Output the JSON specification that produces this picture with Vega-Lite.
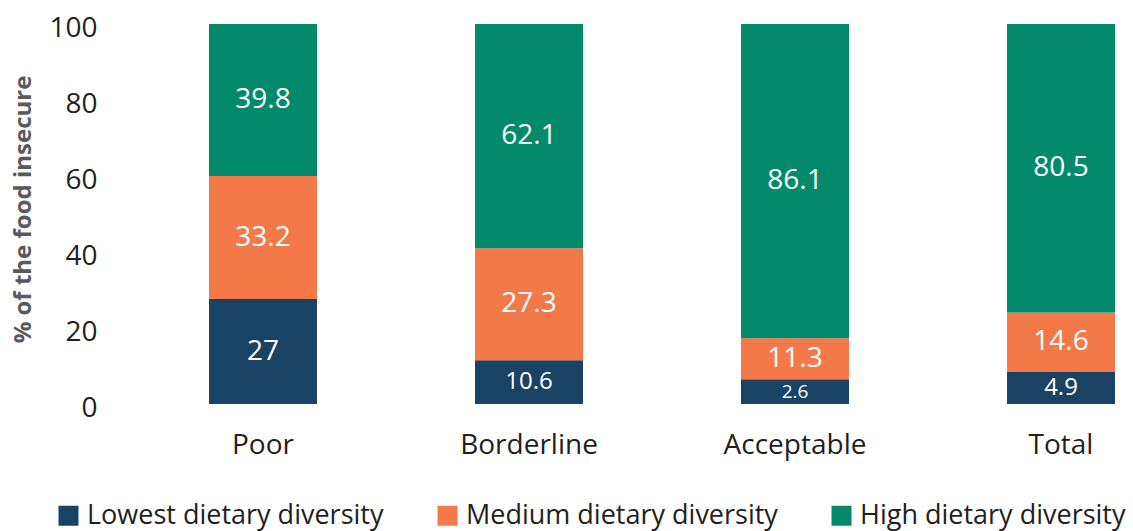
{
  "$schema": "https://vega.github.io/schema/vega-lite/v6.json",
  "autosize": {"type": "none"},
  "width": 1025,
  "height": 380,
  "padding": {"left": 100, "top": 24, "right": 8, "bottom": 127},
  "background": "white",
  "config": {
    "view": {"stroke": null},
    "font": "Open Sans"
  },
  "data": {
    "values": [
      {"group": "Poor", "diversity": "Lowest dietary diversity", "k": 1, "share": 27.6, "label": 27},
      {"group": "Poor", "diversity": "Medium dietary diversity", "k": 2, "share": 32.4, "label": 33.2},
      {"group": "Poor", "diversity": "High dietary diversity", "k": 3, "share": 40.0, "label": 39.8},
      {"group": "Borderline", "diversity": "Lowest dietary diversity", "k": 1, "share": 11.5, "label": 10.6},
      {"group": "Borderline", "diversity": "Medium dietary diversity", "k": 2, "share": 29.5, "label": 27.3},
      {"group": "Borderline", "diversity": "High dietary diversity", "k": 3, "share": 59.0, "label": 62.1},
      {"group": "Acceptable", "diversity": "Lowest dietary diversity", "k": 1, "share": 6.5, "label": 2.6},
      {"group": "Acceptable", "diversity": "Medium dietary diversity", "k": 2, "share": 10.8, "label": 11.3},
      {"group": "Acceptable", "diversity": "High dietary diversity", "k": 3, "share": 82.7, "label": 86.1},
      {"group": "Total", "diversity": "Lowest dietary diversity", "k": 1, "share": 8.4, "label": 4.9},
      {"group": "Total", "diversity": "Medium dietary diversity", "k": 2, "share": 15.7, "label": 14.6},
      {"group": "Total", "diversity": "High dietary diversity", "k": 3, "share": 75.9, "label": 80.5}
    ]
  },
  "encoding": {
    "x": {
      "field": "group",
      "type": "nominal",
      "sort": ["Poor", "Borderline", "Acceptable", "Total"],
      "scale": {"paddingInner": 0.594, "paddingOuter": 0.2237, "align": 0.916},
      "axis": {
        "title": null,
        "labelAngle": 0,
        "labelFontSize": 28,
        "labelColor": "#231f20",
        "labelPadding": 27,
        "ticks": false,
        "domain": false
      }
    },
    "order": {"field": "k", "type": "quantitative", "sort": "ascending"}
  },
  "layer": [
    {
      "mark": {"type": "bar"},
      "encoding": {
        "y": {
          "field": "share",
          "type": "quantitative",
          "stack": "zero",
          "scale": {"domain": [0, 100], "nice": false},
          "axis": {
            "title": "% of the food insecure",
            "titleFontSize": 24,
            "titleFontWeight": "bold",
            "titleColor": "#58595b",
            "titleAngle": 270,
            "titleAlign": "center",
            "titleBaseline": "middle",
            "titleX": -77,
            "titleY": 185,
            "values": [0, 20, 40, 60, 80, 100],
            "labelFontSize": 28,
            "labelColor": "#231f20",
            "labelPadding": 3,
            "labelOffset": 4,
            "ticks": false,
            "domain": false,
            "grid": false
          }
        },
        "color": {
          "field": "diversity",
          "type": "nominal",
          "scale": {
            "domain": ["Lowest dietary diversity", "Medium dietary diversity", "High dietary diversity"],
            "range": ["#1a4263", "#f37a48", "#038a6a"]
          },
          "legend": {
            "title": null,
            "orient": "none",
            "direction": "horizontal",
            "legendX": -45,
            "legendY": 478,
            "symbolType": "square",
            "symbolSize": 400,
            "symbolStrokeWidth": 0,
            "symbolOpacity": 1,
            "labelFontSize": 27,
            "labelColor": "#231f20",
            "labelOffset": 5,
            "columnPadding": 50,
            "labelLimit": 500
          }
        }
      }
    },
    {
      "mark": {"type": "text", "color": "white", "baseline": "middle", "align": "center"},
      "encoding": {
        "y": {"field": "share", "type": "quantitative", "stack": "zero", "bandPosition": 0.5},
        "text": {"field": "label", "type": "quantitative"},
        "size": {
          "condition": [
            {"test": "datum.label < 3", "value": 19},
            {"test": "datum.label < 11", "value": 24}
          ],
          "value": 28
        }
      }
    }
  ]
}
